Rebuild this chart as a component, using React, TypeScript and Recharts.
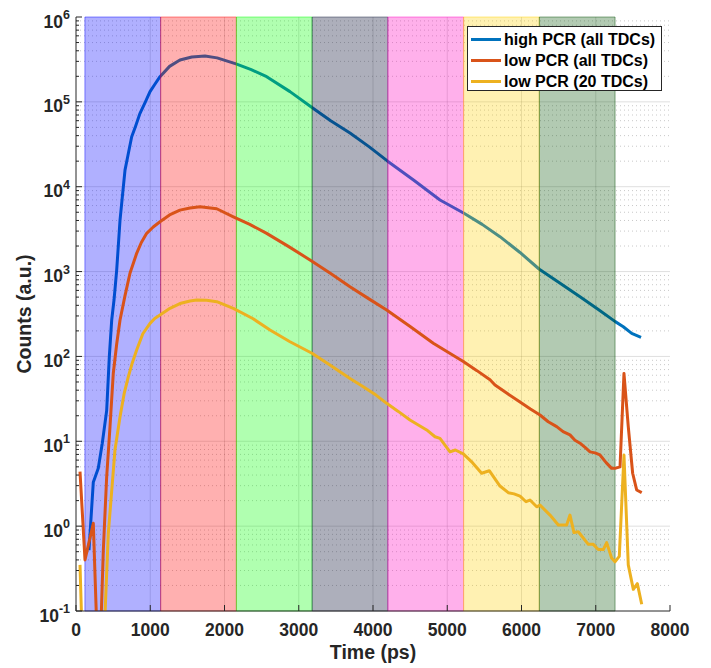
import { LineChart, Line, XAxis, YAxis, ReferenceArea, ReferenceLine } from "recharts"

// time axis (ps) and log counts axis
const TIME_TICKS = [0, 1000, 2000, 3000, 4000, 5000, 6000, 7000, 8000]
const DECADES = [0.1, 1, 10, 100, 1e3, 1e4, 1e5, 1e6]
const MINOR = DECADES.slice(0, -1).flatMap((d) => [2, 3, 4, 5, 6, 7, 8, 9].map((m) => +(m * d).toPrecision(3)))

// shaded time windows
const BAND_EDGES = [120, 1140, 2160, 3180, 4200, 5220, 6240, 7260]
const BAND_COLORS = ["#0000ff", "#ff0000", "#00ff00", "#151a3c", "#ff00c0", "#ffd000", "#004e00"]
const BAND_OPACITY = [0.31, 0.31, 0.31, 0.35, 0.31, 0.3, 0.3]

// high PCR (all TDCs)
const highT = [175, 233, 300, 354, 413, 449, 481, 512, 548, 593, 620, 660, 700, 750, 800, 862, 930, 997, 1060, 1131, 1260, 1400, 1560, 1737, 1900, 2155, 2360, 2568, 2882, 3178, 3430, 3690, 3950, 4197, 4550, 4902, 5225, 5470, 5710, 5980, 6240, 6510, 6788, 7030, 7263, 7371, 7484, 7610]
const highV = [0.52, 3.3, 4.8, 9.5, 23, 100, 269, 462, 1040, 4050, 7000, 15700, 23500, 38800, 51000, 73300, 98000, 132000, 160000, 198000, 262000, 311000, 338000, 347000, 330000, 280000, 240000, 198000, 132000, 86000, 60000, 43000, 29500, 20000, 11900, 6970, 4860, 3600, 2580, 1680, 1065, 740, 506, 360, 257, 224, 187, 168]

// low PCR (all TDCs)
const lowAllT = [54, 121, 233, 292, 323, 368, 413, 458, 502, 548, 593, 660, 727, 817, 880, 952, 1040, 1131, 1260, 1400, 1535, 1670, 1895, 2119, 2340, 2568, 2860, 3152, 3420, 3690, 3940, 4184, 4500, 4812, 5216, 5400, 5576, 5643, 5800, 5980, 6120, 6249, 6360, 6474, 6560, 6653, 6720, 6788, 6860, 6923, 6990, 7057, 7140, 7214, 7259, 7327, 7380, 7438, 7497, 7551, 7619]
const lowAllV = [4.4, 0.4, 1.08, 0.03, 0.03, 0.52, 3.8, 14.9, 63, 140, 269, 520, 955, 1640, 2200, 2820, 3350, 3870, 4650, 5300, 5600, 5820, 5500, 4420, 3600, 2820, 1980, 1370, 960, 664, 480, 352, 225, 143, 87, 68, 53, 46, 37, 29, 24, 20.4, 17, 14.9, 13, 11.9, 10.3, 9.5, 8.4, 7.5, 7.3, 6.9, 5.6, 4.8, 4.8, 5.0, 63, 14.9, 4.2, 2.67, 2.48]

// low PCR (20 TDCs)
const low20T = [54, 90, 368, 435, 525, 593, 650, 705, 760, 817, 900, 997, 1060, 1131, 1266, 1400, 1535, 1625, 1760, 1895, 2119, 2380, 2613, 2882, 3178, 3430, 3690, 3869, 4040, 4184, 4340, 4498, 4723, 4835, 4902, 5037, 5110, 5216, 5340, 5463, 5566, 5710, 5822, 5900, 5980, 6061, 6114, 6205, 6249, 6384, 6496, 6608, 6653, 6707, 6765, 6900, 6967, 7034, 7102, 7147, 7214, 7259, 7317, 7380, 7438, 7506, 7560, 7619]
const low20V = [0.35, 0.03, 0.03, 0.82, 7.9, 19.5, 37, 57.7, 85, 119, 185, 245, 280, 308, 369, 420, 450, 462, 458, 442, 369, 280, 205, 149, 109, 78, 55, 44, 35, 28, 22.5, 17.8, 13.6, 11.3, 10.8, 7.5, 7.9, 7.1, 5.6, 4.2, 4.5, 2.97, 2.48, 2.4, 2.26, 1.94, 2.03, 1.69, 1.77, 1.35, 1.03, 1.03, 1.35, 0.84, 0.86, 0.61, 0.61, 0.53, 0.53, 0.64, 0.42, 0.38, 0.44, 6.9, 0.35, 0.18, 0.21, 0.12]

const HIGH = { name: "high PCR (all TDCs)", color: "#0072BD", t: highT, v: highV }
const LOW_ALL = { name: "low PCR (all TDCs)", color: "#D95319", t: lowAllT, v: lowAllV }
const LOW_20 = { name: "low PCR (20 TDCs)", color: "#EDB120", t: low20T, v: low20V }
const SERIES = [HIGH, LOW_ALL, LOW_20]

const AXIS = "#262626"
const FONT = "'Liberation Sans', Arial, Helvetica, sans-serif"

const toPoints = (t: number[], v: number[]) => t.map((x, i) => ({ t: x, v: v[i] }))

const isMajor = (v: number) => DECADES.some((d) => Math.abs(d - v) < d * 1e-6)

const LeftTick = ({ x, y, payload }: any) => {
  const major = isMajor(payload.value)
  const exp = Math.round(Math.log10(payload.value))
  return (
    <g>
      <line x1={x} x2={x + (major ? 6 : 3)} y1={y} y2={y} stroke={AXIS} />
      {major && (
        <text x={x - 6} y={y + 10.5} textAnchor="end" fontFamily={FONT} fontWeight="bold" fontSize={17.5} fill={AXIS}>
          10<tspan dy={-8.5} fontSize={12.5}>{exp}</tspan>
        </text>
      )}
    </g>
  )
}

const RightTick = ({ x, y, payload }: any) => {
  const major = isMajor(payload.value)
  return <line x1={x} x2={x - (major ? 6 : 3)} y1={y} y2={y} stroke={AXIS} />
}

const BottomTick = ({ x, y, payload }: any) => (
  <g>
    <line x1={x} x2={x} y1={y} y2={y - 6} stroke={AXIS} />
    <text x={x} y={y + 25} textAnchor="middle" fontFamily={FONT} fontWeight="bold" fontSize={17.5} fill={AXIS}>
      {payload.value}
    </text>
  </g>
)

const TopTick = ({ x, y }: any) => <line x1={x} x2={x} y1={y} y2={y + 6} stroke={AXIS} />

const renderLine = (s: typeof HIGH, z: number) => (
  <Line
    key={s.name}
    data={toPoints(s.t, s.v)}
    dataKey="v"
    name={s.name}
    type="linear"
    stroke={s.color}
    strokeWidth={3}
    strokeLinejoin="round"
    dot={false}
    activeDot={false}
    isAnimationActive={false}
    zIndex={z}
  />
)

export default function App() {
  return (
    <div style={{ position: "absolute", left: 0, top: 0, width: 711, height: 668, background: "#fff" }}>
      <LineChart width={711} height={668} margin={{ top: 17, right: 41, bottom: 0, left: 0 }}>
        {/* grid */}
        {MINOR.map((v) => (
          <ReferenceLine key={`mg-${v}`} y={v} stroke={AXIS} strokeOpacity={0.25} strokeDasharray="1 3" zIndex={-100} />
        ))}
        {DECADES.slice(1, -1).map((v) => (
          <ReferenceLine key={`g-${v}`} y={v} stroke={AXIS} strokeOpacity={0.15} zIndex={-100} />
        ))}
        {TIME_TICKS.slice(1, -1).map((t) => (
          <ReferenceLine key={`gx-${t}`} x={t} stroke={AXIS} strokeOpacity={0.15} zIndex={-100} />
        ))}

        {/* high PCR sits under the shaded windows */}
        {renderLine(HIGH, 300)}

        {BAND_COLORS.map((c, i) => (
          <ReferenceArea
            key={`band-${i}`}
            x1={BAND_EDGES[i]}
            x2={BAND_EDGES[i + 1]}
            fill={c}
            fillOpacity={BAND_OPACITY[i]}
            stroke={c}
            strokeOpacity={0.45}
            zIndex={350}
          />
        ))}

        {/* low PCR curves on top */}
        {renderLine(LOW_ALL, 400)}
        {renderLine(LOW_20, 400)}

        <XAxis
          dataKey="t"
          type="number"
          domain={[0, 8000]}
          ticks={TIME_TICKS}
          interval={0}
          height={57}
          tickSize={0}
          tickMargin={0}
          tickLine={false}
          tick={<BottomTick />}
          axisLine={{ stroke: AXIS }}
          allowDataOverflow
          label={{ value: "Time (ps)", position: "insideBottom", offset: 9, fill: AXIS, fontSize: 19.5, fontWeight: "bold", fontFamily: FONT }}
        />
        <XAxis
          xAxisId="top"
          orientation="top"
          type="number"
          domain={[0, 8000]}
          ticks={TIME_TICKS}
          interval={0}
          height={0}
          tickSize={0}
          tickMargin={0}
          tickLine={false}
          tick={<TopTick />}
          axisLine={{ stroke: AXIS }}
          allowDataOverflow
        />
        <YAxis
          type="number"
          scale="log"
          domain={[0.1, 1e6]}
          ticks={[...DECADES, ...MINOR]}
          interval={0}
          width={76}
          tickSize={0}
          tickMargin={0}
          tickLine={false}
          tick={<LeftTick />}
          axisLine={{ stroke: AXIS }}
          allowDataOverflow
          label={{ value: "Counts (a.u.)", angle: -90, position: "insideLeft", offset: 24, fill: AXIS, fontSize: 19.5, fontWeight: "bold", fontFamily: FONT, style: { textAnchor: "middle" } }}
        />
        <YAxis
          yAxisId="right"
          orientation="right"
          type="number"
          scale="log"
          domain={[0.1, 1e6]}
          ticks={[...DECADES, ...MINOR]}
          interval={0}
          width={0}
          tickSize={0}
          tickMargin={0}
          tickLine={false}
          tick={<RightTick />}
          axisLine={{ stroke: AXIS }}
          allowDataOverflow
        />
      </LineChart>

      {/* legend box */}
      <div
        style={{
          position: "absolute",
          left: 467,
          top: 26,
          width: 193,
          height: 61,
          border: `1px solid ${AXIS}`,
          background: "#fff",
          paddingTop: 2,
          boxSizing: "content-box",
          fontFamily: FONT,
          fontWeight: "bold",
          fontSize: 16,
          color: "#000",
        }}
      >
        {SERIES.map((s) => (
          <div key={s.name} style={{ display: "flex", alignItems: "center", height: 21, whiteSpace: "nowrap" }}>
            <span style={{ display: "inline-block", width: 30, height: 3, background: s.color, marginLeft: 3, marginRight: 3 }} />
            <span>{s.name}</span>
          </div>
        ))}
      </div>
    </div>
  )
}
